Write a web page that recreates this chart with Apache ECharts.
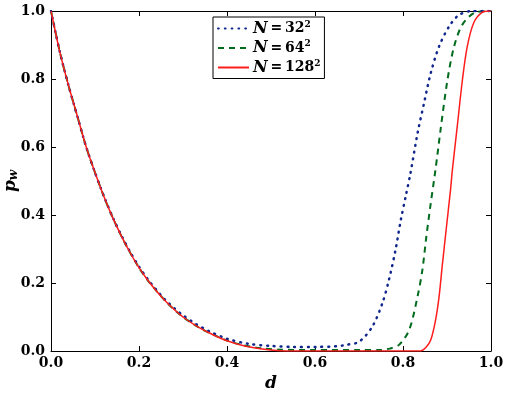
<!DOCTYPE html>
<html>
<head>
<meta charset="utf-8">
<script src="https://cdn.jsdelivr.net/npm/echarts@6/dist/echarts.min.js"></script>
<style>html,body{margin:0;padding:0;background:#fff}#c{width:507px;height:393px}</style>
</head>
<body>
<div id="c"></div>
<script>
// Data
const xTicks = [0.0, 0.2, 0.4, 0.6, 0.8, 1.0];
const yTicks = [0.0, 0.2, 0.4, 0.6, 0.8, 1.0];

const d32 = [0, 0.02, 0.04, 0.06, 0.08, 0.10, 0.12, 0.14, 0.16, 0.18, 0.20, 0.22, 0.24, 0.26, 0.28, 0.30, 0.33, 0.36, 0.40, 0.45, 0.50, 0.55, 0.60, 0.65, 0.67, 0.70, 0.73, 0.753, 0.768, 0.783, 0.795, 0.806, 0.817, 0.833, 0.848, 0.863, 0.882, 0.905, 0.927, 0.957, 1.0];
const p32 = [1.00, 0.88, 0.78, 0.69, 0.60, 0.525, 0.456, 0.394, 0.340, 0.291, 0.248, 0.211, 0.179, 0.150, 0.126, 0.105, 0.079, 0.058, 0.036, 0.021, 0.015, 0.012, 0.012, 0.014, 0.018, 0.027, 0.071, 0.140, 0.209, 0.297, 0.385, 0.454, 0.523, 0.640, 0.730, 0.817, 0.896, 0.955, 0.988, 1.0, 1.0];

const d64 = [0, 0.02, 0.04, 0.06, 0.08, 0.10, 0.12, 0.14, 0.16, 0.18, 0.20, 0.22, 0.24, 0.26, 0.28, 0.30, 0.33, 0.36, 0.40, 0.44, 0.48, 0.52, 0.60, 0.70, 0.75, 0.77, 0.791, 0.814, 0.833, 0.844, 0.853, 0.863, 0.874, 0.886, 0.901, 0.916, 0.935, 0.965, 1.0];
const p64 = [1.00, 0.88, 0.78, 0.69, 0.60, 0.525, 0.455, 0.393, 0.338, 0.289, 0.245, 0.208, 0.176, 0.147, 0.122, 0.100, 0.074, 0.053, 0.031, 0.016, 0.008, 0.004, 0.003, 0.003, 0.003, 0.007, 0.018, 0.062, 0.160, 0.238, 0.336, 0.434, 0.535, 0.657, 0.797, 0.895, 0.960, 0.996, 1.0];

const d128 = [0, 0.02, 0.04, 0.06, 0.08, 0.10, 0.12, 0.14, 0.16, 0.18, 0.20, 0.22, 0.24, 0.26, 0.28, 0.30, 0.33, 0.36, 0.40, 0.44, 0.48, 0.52, 0.55, 0.84, 0.852, 0.863, 0.874, 0.882, 0.889, 0.898, 0.908, 0.912, 0.923, 0.935, 0.946, 0.961, 0.980, 1.0];
const p128 = [1.00, 0.88, 0.78, 0.69, 0.60, 0.525, 0.455, 0.393, 0.338, 0.289, 0.245, 0.208, 0.176, 0.147, 0.122, 0.100, 0.074, 0.053, 0.030, 0.015, 0.006, 0.001, 0.0, 0.0, 0.010, 0.032, 0.091, 0.160, 0.248, 0.356, 0.474, 0.530, 0.657, 0.797, 0.895, 0.966, 0.996, 1.0];

const names = ['N32', 'N64', 'N128'];
const legendText = { N32: '{i|N}\u2009=\u200932{s|2}', N64: '{i|N}\u2009=\u200964{s|2}', N128: '{i|N}\u2009=\u2009128{s|2}' };

const pairs = (xs, ys) => xs.map((x, i) => [x, ys[i]]);
const FONT = 'DejaVu Serif';

const chart = echarts.init(document.getElementById('c'), null, { renderer: 'canvas' });

const labelStyle = { fontFamily: FONT, fontWeight: 'bold', fontSize: 14, color: '#000' };
const baseAxis = {
  type: 'value', min: 0, max: 1, interval: 0.2,
  splitLine: { show: false },
  axisLine: { show: true, onZero: false, lineStyle: { color: '#000', width: 1 } },
  axisTick: { show: true, inside: true, length: 5, lineStyle: { color: '#000' } }
};

chart.setOption({
  animation: false,
  backgroundColor: '#fff',
  grid: { left: 51, right: 16, top: 11, bottom: 42, containLabel: false, outerBoundsMode: 'none' },
  xAxis: [
    Object.assign({}, baseAxis, {
      position: 'bottom',
      axisLabel: Object.assign({ margin: 5, formatter: v => v.toFixed(1), showMinLabel: true, showMaxLabel: true }, labelStyle),
      name: 'd', nameLocation: 'middle', nameGap: 22,
      nameTextStyle: { fontFamily: FONT, fontStyle: 'italic', fontWeight: 'bold', fontSize: 17, color: '#000' }
    }),
    Object.assign({}, baseAxis, { position: 'top', axisLabel: { show: false } })
  ],
  yAxis: [
    Object.assign({}, baseAxis, {
      position: 'left',
      axisLabel: Object.assign({ margin: 6, formatter: v => v.toFixed(1), showMinLabel: true, showMaxLabel: true }, labelStyle),
      name: '{p|p}{w|w}', nameLocation: 'middle', nameGap: 31, nameRotate: 90, nameMoveOverlap: false,
      nameTextStyle: {
        rich: {
          p: { fontFamily: FONT, fontStyle: 'italic', fontWeight: 'bold', fontSize: 17, color: '#000' },
          w: { fontFamily: FONT, fontStyle: 'italic', fontWeight: 'bold', fontSize: 12, color: '#000', verticalAlign: 'bottom', padding: [6, 0, 0, 0] }
        }
      }
    }),
    Object.assign({}, baseAxis, { position: 'right', axisLabel: { show: false } })
  ],
  legend: {
    orient: 'vertical', left: 213, top: 17,
    padding: [3, 4, 3, 4], itemGap: 3, itemWidth: 31, itemHeight: 14,
    backgroundColor: '#fff', borderColor: '#000', borderWidth: 1, borderRadius: 0,
    itemStyle: { opacity: 0 },
    data: names,
    formatter: n => legendText[n],
    textStyle: {
      fontFamily: FONT, fontWeight: 'bold', fontSize: 14, color: '#000', padding: [0, 0, 0, -1],
      rich: {
        i: { fontFamily: FONT, fontStyle: 'italic', fontWeight: 'bold', fontSize: 16, color: '#000' },
        s: { fontFamily: FONT, fontWeight: 'bold', fontSize: 9, color: '#000', verticalAlign: 'top', padding: [0, 0, 8, 0] }
      }
    }
  },
  series: [
    { name: 'N32', type: 'line', data: pairs(d32, p32), showSymbol: false, symbol: 'none', smooth: 0.3,
      lineStyle: { color: '#10268c', width: 2.5, type: [0.8, 6], cap: 'round' }, itemStyle: { color: '#10268c' }, z: 3 },
    { name: 'N64', type: 'line', data: pairs(d64, p64), showSymbol: false, symbol: 'none', smooth: 0.3,
      lineStyle: { color: '#006b1c', width: 2, type: [6, 5] }, itemStyle: { color: '#006b1c' }, z: 2 },
    { name: 'N128', type: 'line', data: pairs(d128, p128), showSymbol: false, symbol: 'none', smooth: 0.3,
      lineStyle: { color: '#ff1c1c', width: 1.5, type: 'solid' }, itemStyle: { color: '#ff1c1c' }, z: 4 }
  ]
});
</script>
</body>
</html>
